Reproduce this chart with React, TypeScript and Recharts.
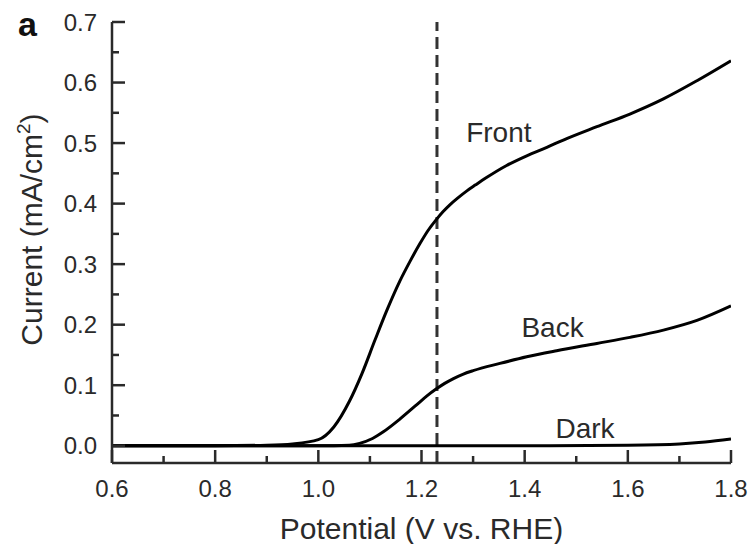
import React from 'react';
import { LineChart, Line, XAxis, YAxis, ReferenceLine, ReferenceDot } from 'recharts';

// Linear sweep voltammetry: photocurrent vs. applied potential
const frontPotential = [0.6, 0.7, 0.8, 0.9, 0.95, 1.0, 1.03, 1.06, 1.085, 1.11, 1.133, 1.158, 1.178, 1.197, 1.213, 1.229, 1.242, 1.255, 1.27, 1.288, 1.305, 1.326, 1.365, 1.404, 1.443, 1.475, 1.54, 1.604, 1.669, 1.734, 1.8];
const frontCurrent = [0, 0, 0, 0.001, 0.003, 0.01, 0.031, 0.073, 0.12, 0.175, 0.224, 0.272, 0.305, 0.334, 0.356, 0.374, 0.387, 0.398, 0.409, 0.421, 0.431, 0.443, 0.463, 0.479, 0.493, 0.505, 0.527, 0.548, 0.573, 0.603, 0.636];

const backPotential = [0.6, 0.8, 1.0, 1.06, 1.08, 1.105, 1.126, 1.158, 1.191, 1.21, 1.229, 1.245, 1.262, 1.28, 1.3, 1.352, 1.404, 1.462, 1.54, 1.604, 1.669, 1.734, 1.8];
const backCurrent = [0, 0, 0, 0.001, 0.004, 0.012, 0.023, 0.044, 0.068, 0.082, 0.094, 0.103, 0.111, 0.118, 0.124, 0.136, 0.147, 0.157, 0.169, 0.179, 0.191, 0.207, 0.231];

const darkPotential = [0.6, 0.8, 1.0, 1.2, 1.4, 1.6, 1.7, 1.75, 1.8];
const darkCurrent = [0, 0, 0, 0, 0, 0.001, 0.003, 0.006, 0.011];

const xTicks = [0.6, 0.7, 0.8, 0.9, 1.0, 1.1, 1.2, 1.3, 1.4, 1.5, 1.6, 1.7, 1.8];
const yTicks = [0, 0.05, 0.1, 0.15, 0.2, 0.25, 0.3, 0.35, 0.4, 0.45, 0.5, 0.55, 0.6, 0.65, 0.7];

const thresholdPotential = 1.23;

const curveLabels = [
  { text: 'Front', v: 1.35, j: 0.519 },
  { text: 'Back', v: 1.454, j: 0.196 },
  { text: 'Dark', v: 1.517, j: 0.0287 },
];

const toSeries = (vs: number[], js: number[]) => vs.map((v, i) => ({ v, j: js[i] }));
const frontData = toSeries(frontPotential, frontCurrent);
const backData = toSeries(backPotential, backCurrent);
const darkData = toSeries(darkPotential, darkCurrent);

// Layout
const WIDTH = 752;
const HEIGHT = 544;
const MARGIN = { top: 22, right: 21, bottom: 0, left: 0 };
const Y_AXIS_W = 112;
const X_AXIS_H = 81;
const PLOT_LEFT = MARGIN.left + Y_AXIS_W;
const PLOT_BOTTOM = HEIGHT - MARGIN.bottom - X_AXIS_H;

const FONT = '"Liberation Sans", Arial, Helvetica, sans-serif';
const INK = '#2a2a2a';
const MAJOR = 13;
const MINOR = 7;

// Ticks point inward; every other tick is a labelled major tick
const XTick = (props: any) => {
  const { x, payload, index } = props;
  const major = index % 2 === 0;
  const y = PLOT_BOTTOM;
  return (
    <g>
      <line x1={x} x2={x} y1={y} y2={y - (major ? MAJOR : MINOR)} stroke={INK} strokeWidth={2.5} />
      {major && (
        <text x={x} y={y + 34} textAnchor="middle" fontFamily={FONT} fontSize={24} fill={INK}>
          {Number(payload.value).toFixed(1)}
        </text>
      )}
    </g>
  );
};

const YTick = (props: any) => {
  const { y, payload, index } = props;
  const major = index % 2 === 0;
  const x = PLOT_LEFT;
  return (
    <g>
      <line x1={x} x2={x + (major ? MAJOR : MINOR)} y1={y} y2={y} stroke={INK} strokeWidth={2.5} />
      {major && (
        <text x={x - 15} y={y + 8.5} textAnchor="end" fontFamily={FONT} fontSize={24} fill={INK}>
          {Number(payload.value).toFixed(1)}
        </text>
      )}
    </g>
  );
};

const XTitle = (props: any) => {
  const { viewBox } = props;
  return (
    <text x={viewBox.x + viewBox.width / 2} y={PLOT_BOTTOM + 76} textAnchor="middle" fontFamily={FONT} fontSize={30} fill={INK}>
      Potential (V vs. RHE)
    </text>
  );
};

const YTitle = (props: any) => {
  const { viewBox } = props;
  const cx = 42;
  const cy = viewBox.y + viewBox.height / 2 - 13;
  return (
    <text x={cx} y={cy} transform={`rotate(-90 ${cx} ${cy})`} textAnchor="middle" fontFamily={FONT} fontSize={30} fill={INK}>
      Current (mA/cm
      <tspan fontSize={19} dy={-12}>2</tspan>
      <tspan dy={12}>)</tspan>
    </text>
  );
};

export default function App() {
  return (
    <div style={{ position: 'absolute', left: 0, top: 0, width: WIDTH, height: HEIGHT, background: '#fff' }}>
      <div style={{ position: 'absolute', left: 18, top: 4, fontFamily: FONT, fontWeight: 'bold', fontSize: 34, color: '#111', lineHeight: '40px' }}>
        a
      </div>
      <LineChart width={WIDTH} height={HEIGHT} margin={MARGIN}>
        <XAxis
          dataKey="v"
          type="number"
          domain={[0.6, 1.8]}
          ticks={xTicks}
          allowDataOverflow
          height={X_AXIS_H}
          tickSize={0}
          tickMargin={0}
          axisLine={{ stroke: INK, strokeWidth: 2.5 }}
          tickLine={false}
          tick={<XTick />}
          interval={0}
          label={<XTitle />}
        />
        <XAxis xAxisId="top" orientation="top" type="number" domain={[0.6, 1.8]} height={0} tick={false} tickLine={false} axisLine={{ stroke: INK, strokeWidth: 2.5 }} />
        <YAxis
          type="number"
          domain={[-0.0285, 0.7]}
          ticks={yTicks}
          allowDataOverflow
          width={Y_AXIS_W}
          tickSize={0}
          tickMargin={0}
          axisLine={{ stroke: INK, strokeWidth: 2.5 }}
          tickLine={false}
          tick={<YTick />}
          interval={0}
          label={<YTitle />}
        />
        <YAxis yAxisId="right" orientation="right" type="number" domain={[-0.0285, 0.7]} width={0} tick={false} tickLine={false} axisLine={{ stroke: INK, strokeWidth: 2.5 }} />
        <ReferenceLine x={thresholdPotential} stroke="#333" strokeWidth={3} strokeDasharray="12 6" />
        <Line data={darkData} dataKey="j" type="monotone" stroke="#000" strokeWidth={3} dot={false} isAnimationActive={false} />
        <Line data={backData} dataKey="j" type="monotone" stroke="#000" strokeWidth={3} dot={false} isAnimationActive={false} />
        <Line data={frontData} dataKey="j" type="monotone" stroke="#000" strokeWidth={3} dot={false} isAnimationActive={false} />
        {curveLabels.map((l) => (
          <ReferenceDot
            key={l.text}
            x={l.v}
            y={l.j}
            r={0}
            fill="none"
            stroke="none"
            label={{ value: l.text, position: 'center', fontFamily: FONT, fontSize: 28, fill: INK }}
          />
        ))}
      </LineChart>
    </div>
  );
}
